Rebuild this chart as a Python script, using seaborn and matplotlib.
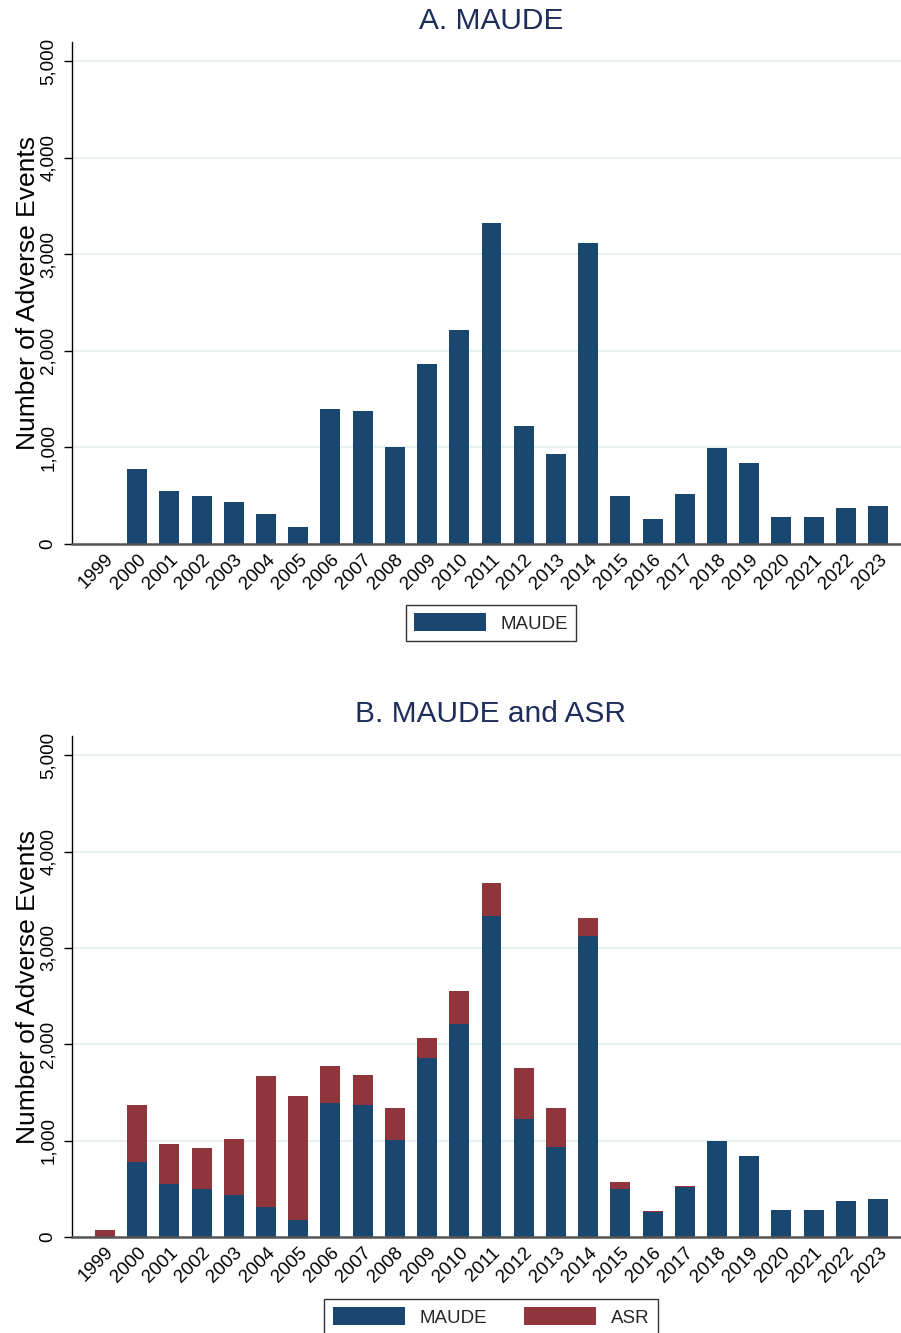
import matplotlib
matplotlib.use("Agg")
import matplotlib.pyplot as plt
from matplotlib.patches import Patch
from matplotlib.ticker import FuncFormatter
import seaborn as sns
import pandas as pd

years = [str(y) for y in range(1999, 2024)]
maude = [0, 776, 548, 496, 434, 310, 176, 1396, 1375, 1003, 1861, 2213, 3330,
         1227, 931, 3123, 496, 259, 517, 993, 838, 279, 279, 372, 393]
total_maude_asr = [69, 1373, 968, 927, 1020, 1675, 1459, 1778, 1684, 1335, 2068,
                   2557, 3677, 1757, 1335, 3314, 574, 273, 532, 993, 838, 279,
                   279, 372, 393]
asr = [t - m for t, m in zip(total_maude_asr, maude)]

titles = ["A. MAUDE", "B. MAUDE and ASR"]
ylabel = "Number of Adverse Events"
yticks = [0, 1000, 2000, 3000, 4000, 5000]

BLUE = "#1a476f"
RED = "#90353b"
GRID = "#e9f0f2"
TITLE_C = "#1f2d5a"

sns.set_theme(style="white")
plt.rcParams["font.family"] = ["Liberation Sans", "DejaVu Sans"]

W, H = 901, 1333
fig = plt.figure(figsize=(W / 100, H / 100), dpi=100)

df = pd.DataFrame({"year": years, "MAUDE": maude, "total": total_maude_asr, "ASR": asr})


def axes_px(left, top, right, bottom):
    return fig.add_axes([left / W, 1 - bottom / H, (right - left) / W, (bottom - top) / H])


def style(ax):
    ax.set_ylim(0, 5200)
    ax.set_xlim(-1.02, 24.71)
    ax.set_yticks(yticks)
    ax.yaxis.set_major_formatter(FuncFormatter(lambda v, p: f"{int(v):,}"))
    ax.grid(axis="y", color=GRID, lw=1.5)
    ax.grid(axis="x", visible=False)
    ax.set_axisbelow(True)
    for s in ["top", "right"]:
        ax.spines[s].set_visible(False)
    ax.spines["left"].set_color("black")
    ax.spines["left"].set_linewidth(1.0)
    ax.spines["bottom"].set_color("#555555")
    ax.spines["bottom"].set_linewidth(1.8)
    ax.tick_params(axis="y", direction="out", length=6, width=1, color="black",
                   labelsize=13.5, pad=5, left=True, labelcolor="black")
    for lab in ax.get_yticklabels():
        lab.set_rotation(90)
        lab.set_va("center")
    ax.tick_params(axis="x", length=0, labelsize=13.5, pad=5, labelcolor="black")
    for lab in ax.get_xticklabels():
        lab.set_rotation(45)
        lab.set_ha("right")
        lab.set_rotation_mode("anchor")
    ax.set_xlabel("")
    ax.set_ylabel(ylabel, fontsize=19, labelpad=0, color="black")


bar_kw = dict(saturation=1, width=0.62, edgecolor="none", linewidth=0)

# Panel A
ax1 = axes_px(72, 42, 901, 544)
sns.barplot(data=df, x="year", y="MAUDE", order=years, color=BLUE, ax=ax1, **bar_kw)
style(ax1)
fig.text(491 / W, 1 - 21 / H, titles[0], ha="center", va="center", fontsize=21.5,
         color=TITLE_C)
leg1 = fig.legend(handles=[Patch(facecolor=BLUE, edgecolor="none", label="MAUDE")],
                  loc="upper center", bbox_to_anchor=(491 / W, 1 - 605 / H),
                  ncol=1, fontsize=13.5, frameon=True, fancybox=False,
                  handlelength=3.85, handleheight=1.07, handletextpad=0.75,
                  borderpad=0.45, borderaxespad=0)
leg1.get_frame().set_edgecolor("black")
leg1.get_frame().set_linewidth(1.0)

# Panel B
ax2 = axes_px(72, 736, 901, 1237)
sns.barplot(data=df, x="year", y="total", order=years, color=RED, ax=ax2, **bar_kw)
sns.barplot(data=df, x="year", y="MAUDE", order=years, color=BLUE, ax=ax2, **bar_kw)
style(ax2)
fig.text(491 / W, 1 - 714 / H, titles[1], ha="center", va="center", fontsize=21.5,
         color=TITLE_C)
leg2 = fig.legend(handles=[Patch(facecolor=BLUE, edgecolor="none", label="MAUDE"),
                           Patch(facecolor=RED, edgecolor="none", label="ASR")],
                  loc="upper center", bbox_to_anchor=(491 / W, 1 - 1299 / H),
                  ncol=2, fontsize=13.5, frameon=True, fancybox=False,
                  handlelength=3.85, handleheight=1.07, handletextpad=0.75,
                  columnspacing=2.0, borderpad=0.45, borderaxespad=0)
leg2.get_frame().set_edgecolor("black")
leg2.get_frame().set_linewidth(1.0)

fig.savefig("out.png", dpi=100)
